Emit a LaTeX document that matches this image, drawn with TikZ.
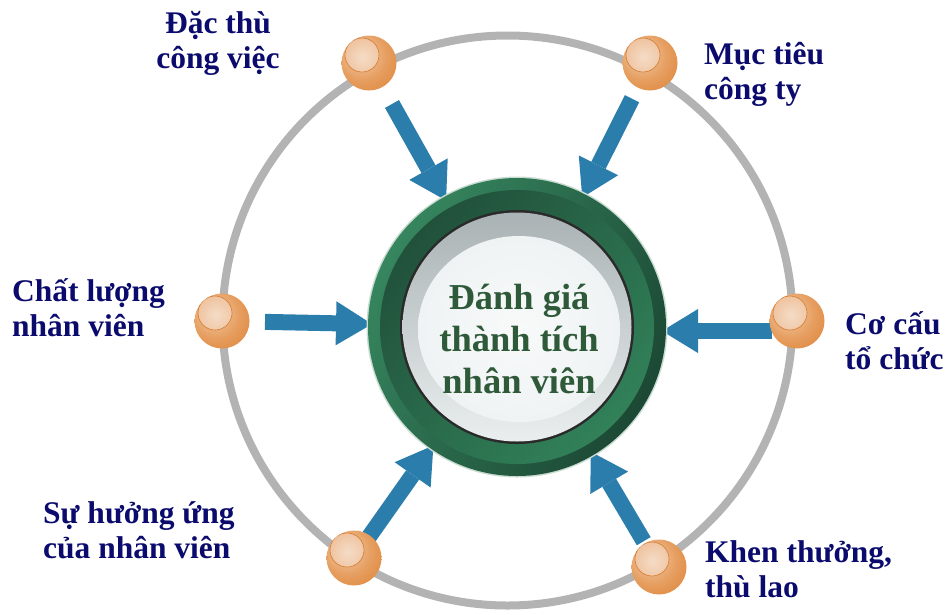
\documentclass[tikz,border=0pt]{standalone}
\usepackage{fontspec}
\setmainfont{Liberation Serif}
\usetikzlibrary{calc,arrows.meta}
\definecolor{navy}{HTML}{0B0B6E}
\definecolor{cgreen}{HTML}{2E5A3A}
\definecolor{arrowblue}{HTML}{2B7EAB}
\definecolor{graycirc}{HTML}{B3B3B3}
\definecolor{orbA}{HTML}{F2D0B0}
\definecolor{orbB}{HTML}{E69E60}
\definecolor{orbC}{HTML}{DA7A28}
\definecolor{hlA}{HTML}{F5DCC6}
\definecolor{hlB}{HTML}{EBB387}
\definecolor{hlC}{HTML}{DE8E4C}
\definecolor{hlEdge}{HTML}{D47A2C}
\definecolor{gOutA}{HTML}{36865F}
\definecolor{gOutB}{HTML}{1C4834}
\definecolor{gInA}{HTML}{21513B}
\definecolor{gInB}{HTML}{318159}
\definecolor{ringc}{HTML}{2A2A2A}
\definecolor{haloc}{HTML}{C9DCD2}
\definecolor{lensTop}{HTML}{A9B2B4}
\definecolor{lensBot}{HTML}{EAEEEE}
\definecolor{lensA}{HTML}{F8FAFA}
\definecolor{lensB}{HTML}{EDF1F1}
\definecolor{lensC}{HTML}{D5DCDD}
\pgfdeclareradialshading{orbsh}{\pgfpoint{-9bp}{9bp}}{color(0bp)=(orbA); color(22bp)=(orbB); color(48bp)=(orbC); color(75bp)=(orbC)}
\pgfdeclareradialshading{hlsh}{\pgfpoint{-6bp}{6bp}}{color(0bp)=(hlA); color(30bp)=(hlB); color(50bp)=(hlC); color(70bp)=(hlC)}
\pgfdeclareradialshading{lenssh}{\pgfpoint{0bp}{0bp}}{color(0bp)=(lensA); color(32bp)=(lensB); color(50bp)=(lensC)}
\pgfdeclarelayer{back}
\pgfdeclarelayer{mid}
\pgfdeclarelayer{disk}
\pgfsetlayers{back,mid,disk,main}
\tikzset{
  orb/.style={circle, minimum size=55pt, inner sep=0pt, shade, shading=orbsh,
    path picture={\path[shade, shading=hlsh, draw=hlEdge, line width=0.6pt]
      ($(path picture bounding box.center)+(-7,-8)$) circle[radius=17pt];}},
  barrow/.style={draw=arrowblue, line width=16pt,
    -{Triangle[width=44pt,length=36pt,line width=0pt]}},
  lab/.style={inner sep=0pt, text=navy, font=\bfseries\fontsize{31.5}{35}\selectfont},
  ttl/.style={inner sep=0pt, text=cgreen, font=\bfseries\fontsize{36.5}{42}\selectfont}
}
\begin{document}
\begin{tikzpicture}[x=1pt,y=-1pt]
\useasboundingbox (0,0) rectangle (945,614);
\begin{pgfonlayer}{back}
  \draw[graycirc, line width=8pt] (507.5,320.5) circle[radius=285pt];
\end{pgfonlayer}
% centre
\node[circle, minimum size=298pt, inner sep=0pt] (cen) at (517,327) {};
\begin{pgfonlayer}{disk}
  \fill[haloc] (cen.center) circle[radius=150.5pt];
  \shade[top color=gOutA, bottom color=gOutB, shading angle=60] (cen.center) circle[radius=149pt];
  \shade[top color=gInA, bottom color=gInB, shading angle=45] (cen.center) circle[radius=137pt];
  \fill[ringc] (cen.center) circle[radius=117pt];
  \shade[top color=lensTop, bottom color=lensBot] (cen.center) circle[radius=114.5pt];
  \shade[shading=lenssh] (519,329) ellipse[x radius=101pt, y radius=93pt];
\end{pgfonlayer}
\node[ttl, anchor=base] (title) at (519,309) {\begin{tabular}[t]{@{}c@{}}Đánh giá\\thành tích\\nhân viên\end{tabular}};
% balls
\node[orb] (b1) at (369,63) {};
\node[orb] (b2) at (650,63) {};
\node[orb] (b3) at (222,321) {};
\node[orb] (b4) at (797,321) {};
\node[orb] (b5) at (354,558) {};
\node[orb] (b6) at (659,567) {};
% arrows
\begin{pgfonlayer}{mid}
  \draw[barrow] ($(b1)!47pt!(cen)$) -- ($(cen)!145pt!(b1)$);
  \draw[barrow] ($(b2)!40pt!(cen)$) -- ($(cen)!145pt!(b2)$);
  \draw[barrow] ($(b3)!43pt!(cen)$) -- ($(cen)!145pt!(b3)$);
  \draw[barrow] ($(b4)+(-25,10)$) -- ($(cen)+(145,4)$);
  \draw[barrow] ($(b5)!26pt!(cen)$) -- ($(cen)!145pt!(b5)$);
  \draw[barrow] ($(b6)!30pt!(cen)$) -- ($(cen)!145pt!(b6)$);
\end{pgfonlayer}
% labels
\node[lab, anchor=base] (t1) at (218,33) {\begin{tabular}[t]{@{}c@{}}Đặc thù\\công việc\end{tabular}};
\node[lab, anchor=base west] (t2) at (704,64) {\begin{tabular}[t]{@{}l@{}}Mục tiêu\\công ty\end{tabular}};
\node[lab, anchor=base west] (t3) at (12,301) {\begin{tabular}[t]{@{}l@{}}Chất lượng\\nhân viên\end{tabular}};
\node[lab, anchor=base west] (t4) at (845,334) {\begin{tabular}[t]{@{}l@{}}Cơ cấu\\tổ chức\end{tabular}};
\node[lab, anchor=base west] (t5) at (43,523) {\begin{tabular}[t]{@{}l@{}}Sự hưởng ứng\\của nhân viên\end{tabular}};
\node[lab, anchor=base west] (t6) at (705,562) {\begin{tabular}[t]{@{}l@{}}Khen thưởng,\\thù lao\end{tabular}};
\end{tikzpicture}
\end{document}
